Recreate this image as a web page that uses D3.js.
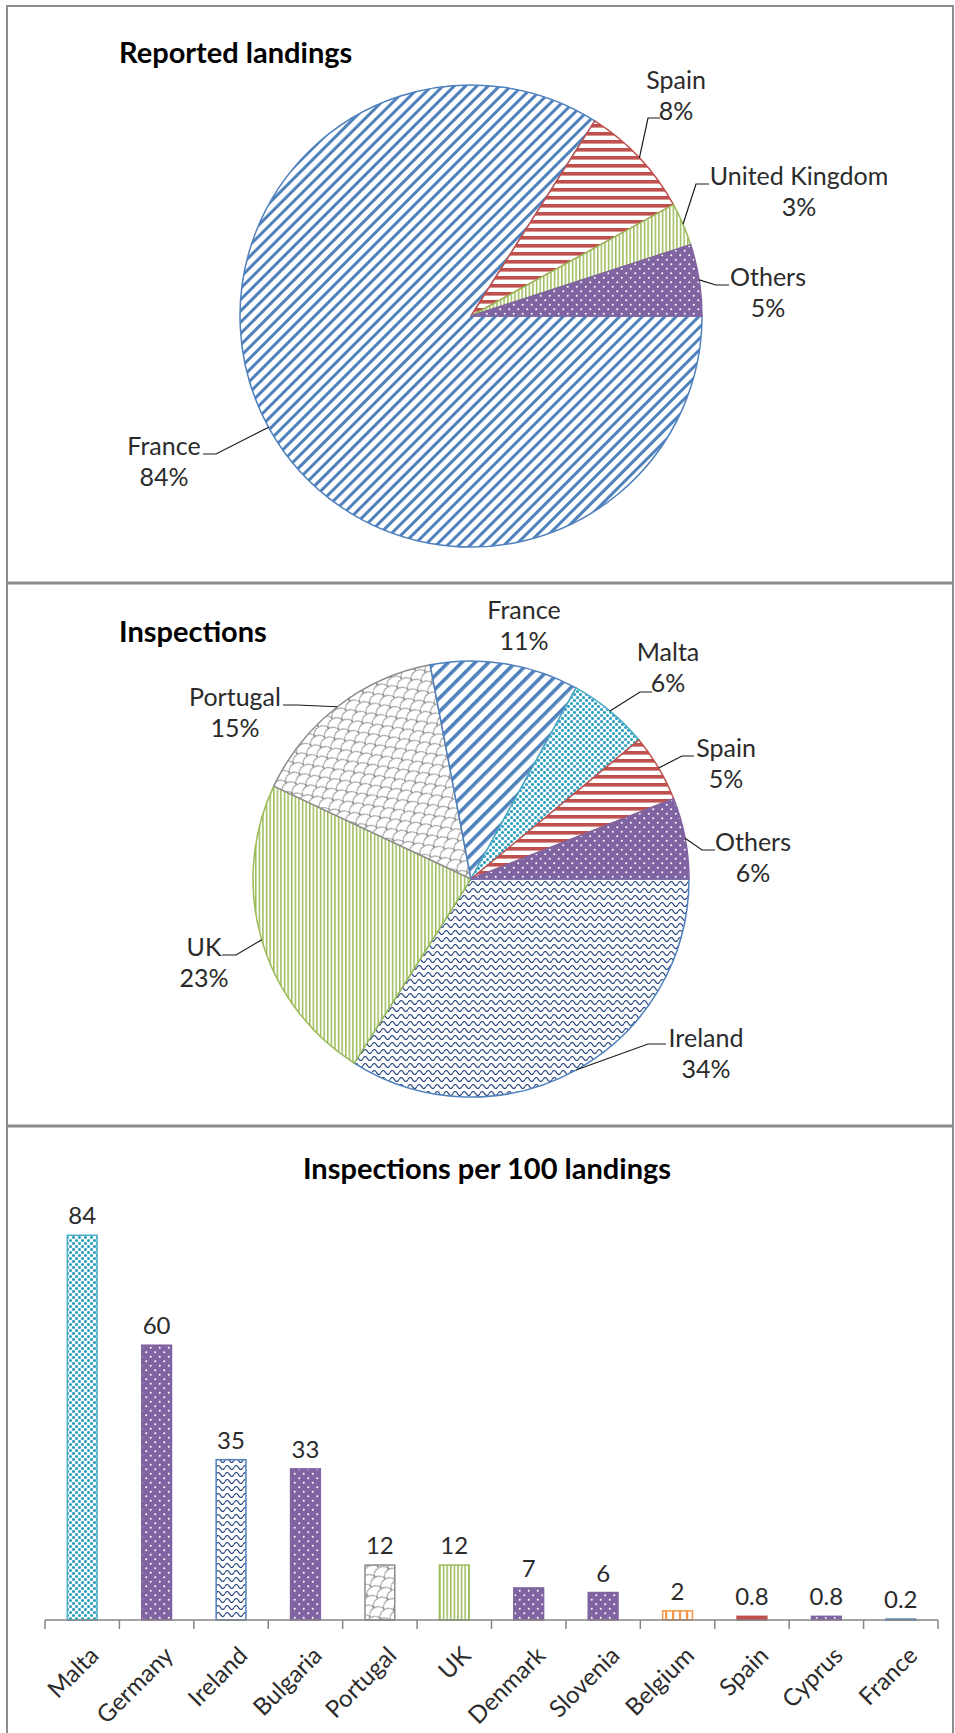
<!DOCTYPE html>
<html>
<head>
<meta charset="utf-8">
<script src="https://cdn.jsdelivr.net/npm/d3@7"></script>
<style>
  body { margin: 0; background: #fff; }
  text { font-family: Lato, "Open Sans", sans-serif; fill: #2b2b2b; }
</style>
</head>
<body>
<div id="visual"></div>
<script>
// Reported landings (%), clockwise from 3 o'clock
var landingCountries = ["France", "Spain", "United Kingdom", "Others"];
var landingShares = [84, 8, 3, 5];

// Inspections (%), clockwise from 3 o'clock
var inspectionCountries = ["Ireland", "UK", "Portugal", "France", "Malta", "Spain", "Others"];
var inspectionShares = [34, 23, 15, 11, 6, 5, 6];

// Inspections per 100 landings
var rateCountries = ["Malta", "Germany", "Ireland", "Bulgaria", "Portugal", "UK", "Denmark", "Slovenia", "Belgium", "Spain", "Cyprus", "France"];
var rateValues = [84, 60, 35, 33, 12, 12, 7, 6, 2, 0.8, 0.8, 0.2];
var rateLabels = ["84", "60", "35", "33", "12", "12", "7", "6", "2", "0.8", "0.8", "0.2"];

var width = 955,
  height = 1733;

var svg = d3
  .select("#visual")
  .append("svg")
  .attr("width", width)
  .attr("height", height);

var defs = svg.append("defs");

//Striped pattern: angle 0 = vertical, 90 = horizontal, 45 = "/" diagonal
function stripes(id, size, thick, color, angle) {
  var p = defs
    .append("pattern")
    .attr("id", id)
    .attr("patternUnits", "userSpaceOnUse")
    .attr("width", size)
    .attr("height", size)
    .attr("patternTransform", "rotate(" + angle + ")");
  p.append("rect").attr("width", size).attr("height", size).attr("fill", "#fff");
  p.append("rect").attr("width", thick).attr("height", size).attr("fill", color);
}

//Dotted pattern (staggered)
function dots(id, size, r, bg, color) {
  var p = defs
    .append("pattern")
    .attr("id", id)
    .attr("patternUnits", "userSpaceOnUse")
    .attr("width", size)
    .attr("height", size);
  p.append("rect").attr("width", size).attr("height", size).attr("fill", bg);
  [[size / 4, size / 4], [(3 * size) / 4, (3 * size) / 4]].forEach(function(c) {
    p.append("circle").attr("cx", c[0]).attr("cy", c[1]).attr("r", r).attr("fill", color);
  });
}

stripes("diagBlue", 8, 3, "#4f81bd", 45);
stripes("diagBlueWide", 9.5, 3.6, "#4f81bd", 45);
stripes("hRed", 8, 3.6, "#c0504d", 90);
stripes("vGreen", 3.6, 1.5, "#9bbb59", 0);
stripes("vOrange", 7, 2.2, "#f79646", 0);
dots("dotsPurple", 9, 1, "#8064a2", "#fff");
dots("dotsCyan", 6, 1.55, "#fff", "#31a2bf");

//Wave pattern
var wave = defs
  .append("pattern")
  .attr("id", "waveNavy")
  .attr("patternUnits", "userSpaceOnUse")
  .attr("width", 9)
  .attr("height", 7);
wave.append("rect").attr("width", 9).attr("height", 7).attr("fill", "#fff");
wave
  .append("path")
  .attr("d", "M0,4.5 Q2.25,0.5 4.5,4.5 T9,4.5")
  .attr("fill", "none")
  .attr("stroke", "#1f3f7a")
  .attr("stroke-width", 1.2);

//Shingle pattern
var shingle = defs
  .append("pattern")
  .attr("id", "shingleGray")
  .attr("patternUnits", "userSpaceOnUse")
  .attr("width", 16)
  .attr("height", 13)
  .attr("patternTransform", "rotate(-30)");
shingle.append("rect").attr("width", 16).attr("height", 13).attr("fill", "#fff");
shingle
  .append("path")
  .attr("d", "M0,6.5 A8,6.5 0 0 1 16,6.5 M-8,13 A8,6.5 0 0 1 8,13 M8,13 A8,6.5 0 0 1 24,13")
  .attr("fill", "none")
  .attr("stroke", "#808080")
  .attr("stroke-width", 1);

var fills = {
  landings: { France: "url(#diagBlue)", Spain: "url(#hRed)", "United Kingdom": "url(#vGreen)", Others: "url(#dotsPurple)" },
  inspections: {
    Ireland: "url(#waveNavy)", UK: "url(#vGreen)", Portugal: "url(#shingleGray)", France: "url(#diagBlueWide)",
    Malta: "url(#dotsCyan)", Spain: "url(#hRed)", Others: "url(#dotsPurple)"
  },
  rates: {
    Malta: "url(#dotsCyan)", Germany: "url(#dotsPurple)", Ireland: "url(#waveNavy)", Bulgaria: "url(#dotsPurple)",
    Portugal: "url(#shingleGray)", UK: "url(#vGreen)", Denmark: "url(#dotsPurple)", Slovenia: "url(#dotsPurple)",
    Belgium: "url(#vOrange)", Spain: "#c0504d", Cyprus: "url(#dotsPurple)", France: "#4f81bd"
  }
};

var strokes = {
  France: "#4f81bd", Spain: "#c0504d", "United Kingdom": "#9bbb59", UK: "#9bbb59", Others: "#8064a2",
  Ireland: "#4f81bd", Portugal: "#8c8c8c", Malta: "#4bacc6", Germany: "#8064a2", Bulgaria: "#8064a2",
  Denmark: "#8064a2", Slovenia: "#8064a2", Cyprus: "#8064a2", Belgium: "#f79646"
};

//Label placement: text centre x, first baseline y, leader attach point (ax, ay) and elbow x (ex)
var landingLabels = {
  France: { x: 164, y: 455, ax: 203, ay: 454, ex: 216 },
  Spain: { x: 676, y: 89, ax: 660, ay: 118, ex: 648 },
  "United Kingdom": { x: 799, y: 185, ax: 709, ay: 184, ex: 696 },
  Others: { x: 768, y: 286, ax: 729, ay: 285, ex: 716 }
};
var inspectionLabels = {
  Ireland: { x: 706, y: 1047, ax: 666, ay: 1044, ex: 648 },
  UK: { x: 204, y: 956, ax: 222, ay: 955, ex: 236 },
  Portugal: { x: 235, y: 706, ax: 283, ay: 705, ex: 297 },
  France: { x: 524, y: 619 },
  Malta: { x: 668, y: 661, ax: 652, ay: 692, ex: 640 },
  Spain: { x: 726, y: 757, ax: 694, ay: 756, ex: 682 },
  Others: { x: 753, y: 851, ax: 715, ay: 850, ex: 702 }
};

//Frame and panel separators
svg
  .append("rect")
  .attr("x", 7)
  .attr("y", 6)
  .attr("width", 946)
  .attr("height", 1760)
  .attr("fill", "none")
  .attr("stroke", "#8c8c8c")
  .attr("stroke-width", 2);
[583, 1126].forEach(function(yy) {
  svg
    .append("line")
    .attr("x1", 7)
    .attr("x2", 953)
    .attr("y1", yy)
    .attr("y2", yy)
    .attr("stroke", "#8c8c8c")
    .attr("stroke-width", 3);
});

function title(txt, x, y, anchor) {
  svg
    .append("text")
    .attr("x", x)
    .attr("y", y)
    .attr("text-anchor", anchor)
    .attr("font-size", 29)
    .attr("font-weight", "bold")
    .style("fill", "#000")
    .text(txt);
}

function drawPie(names, values, cx, cy, r, fillMap, labels) {
  var pie = d3
    .pie()
    .sort(null)
    .startAngle(Math.PI / 2)
    .endAngle(Math.PI / 2 + 2 * Math.PI);
  var arcs = pie(values);
  var arc = d3.arc().innerRadius(0).outerRadius(r);
  var rim = d3.arc().innerRadius(r).outerRadius(r);

  var g = svg.append("g").attr("transform", "translate(" + cx + "," + cy + ")");

  g.selectAll("path.slice")
    .data(arcs)
    .enter()
    .append("path")
    .attr("class", "slice")
    .attr("d", arc)
    .attr("fill", (d, i) => fillMap[names[i]])
    .attr("stroke", (d, i) => strokes[names[i]])
    .attr("stroke-width", 1.5);

  arcs.forEach(function(d, i) {
    var lab = labels[names[i]];
    var p = rim.centroid(d);
    if (lab.ax !== undefined) {
      g.append("path")
        .attr("d", d3.line()([p, [lab.ex - cx, lab.ay - cy], [lab.ax - cx, lab.ay - cy]]))
        .attr("fill", "none")
        .attr("stroke", "#1a1a1a")
        .attr("stroke-width", 1.2);
    }
    var t = svg
      .append("text")
      .attr("text-anchor", "middle")
      .attr("font-size", 25);
    t.append("tspan").attr("x", lab.x).attr("y", lab.y).text(names[i]);
    t.append("tspan").attr("x", lab.x).attr("y", lab.y + 31).text(values[i] + "%");
  });
}

//Reported landings
title("Reported landings", 119, 63, "start");
drawPie(landingCountries, landingShares, 471, 316, 231, fills.landings, landingLabels);

//Inspections
title("Inspections", 119, 642, "start");
drawPie(inspectionCountries, inspectionShares, 471, 879, 218, fills.inspections, inspectionLabels);

//Inspections per 100 landings
title("Inspections per 100 landings", 487, 1179, "middle");

var xScale = d3
  .scaleBand()
  .domain(rateCountries)
  .range([45, 938])
  .paddingInner(0.6)
  .paddingOuter(0.3);

var xCat = d3
  .scaleBand()
  .domain(rateCountries)
  .range([45, 938]);

var yScale = d3
  .scaleLinear()
  .domain([0, 100])
  .range([1620, 1162]);

svg
  .selectAll("rect.bar")
  .data(rateValues)
  .enter()
  .append("rect")
  .attr("class", "bar")
  .attr("x", (d, i) => xScale(rateCountries[i]))
  .attr("width", xScale.bandwidth())
  .attr("y", d => yScale(d))
  .attr("height", d => yScale(0) - yScale(d))
  .attr("fill", (d, i) => fills.rates[rateCountries[i]])
  .attr("stroke", (d, i) => strokes[rateCountries[i]])
  .attr("stroke-width", 1.5);

svg
  .selectAll("text.value")
  .data(rateValues)
  .enter()
  .append("text")
  .attr("class", "value")
  .attr("x", (d, i) => xScale(rateCountries[i]) + xScale.bandwidth() / 2)
  .attr("y", d => yScale(d) - 11)
  .attr("text-anchor", "middle")
  .attr("font-size", 24)
  .text((d, i) => rateLabels[i]);

//Category axis with ticks between categories
svg
  .append("line")
  .attr("x1", 45)
  .attr("x2", 938)
  .attr("y1", yScale(0))
  .attr("y2", yScale(0))
  .attr("stroke", "#868686")
  .attr("stroke-width", 1.5);

var tickXs = rateCountries.map(d => xCat(d)).concat([xCat.range()[1]]);
svg
  .selectAll("line.tick")
  .data(tickXs)
  .enter()
  .append("line")
  .attr("class", "tick")
  .attr("x1", d => d)
  .attr("x2", d => d)
  .attr("y1", yScale(0))
  .attr("y2", yScale(0) + 9)
  .attr("stroke", "#868686")
  .attr("stroke-width", 1.5);

svg
  .selectAll("text.cat")
  .data(rateCountries)
  .enter()
  .append("text")
  .attr("class", "cat")
  .attr("transform", d => "translate(" + (xCat(d) + xCat.bandwidth() / 2 + 6) + "," + (yScale(0) + 25) + ") rotate(-45)")
  .attr("text-anchor", "end")
  .attr("dy", "0.71em")
  .attr("font-size", 24)
  .text(d => d);
</script>
</body>
</html>
